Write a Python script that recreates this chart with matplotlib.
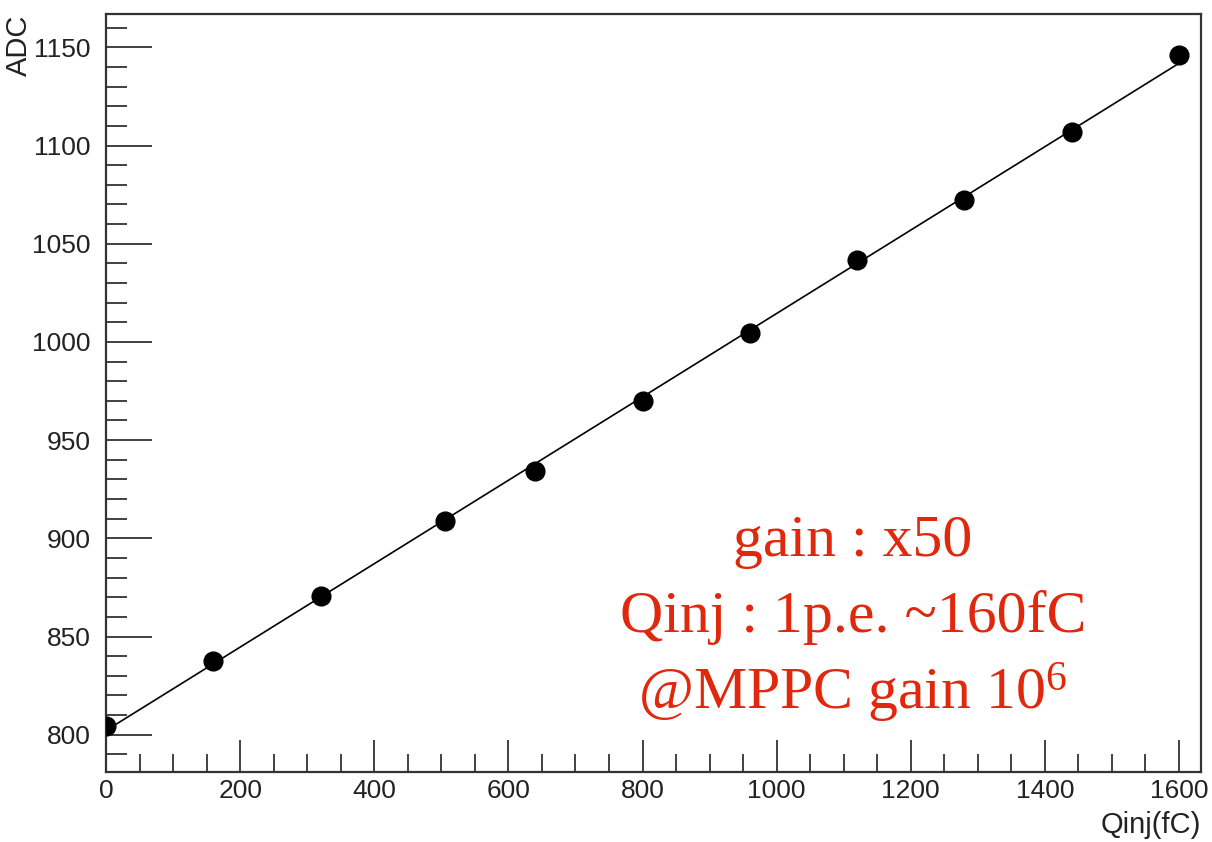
import numpy as np
import matplotlib.pyplot as plt
from matplotlib.ticker import MultipleLocator

# injected charge (fC) vs. ADC count
qinj = [0, 160, 320, 505, 640, 800, 960, 1120, 1280, 1440, 1600]
adc = [804.5, 837.5, 870.5, 909, 934.5, 970, 1004.5, 1041.5, 1072.5, 1107, 1146]

notes = ["gain : x50", "Qinj : 1p.e. ~160fC", "@MPPC gain 10$^{6}$"]
red = "#e0280c"

plt.rcParams["mathtext.fontset"] = "custom"
plt.rcParams["mathtext.rm"] = "Liberation Serif"
plt.rcParams["mathtext.it"] = "Liberation Serif:italic"
plt.rcParams["mathtext.default"] = "rm"

fig = plt.figure(figsize=(12.12, 8.42), dpi=100)
ax = fig.add_axes([0.0875, 0.0831, 0.9035, 0.9003])

# linear fit through the points
p = np.polyfit(qinj, adc, 1)
xf = np.array([qinj[0], qinj[-1]])
ax.plot(xf, np.polyval(p, xf), color="black", lw=1.2, zorder=2)
ax.plot(qinj, adc, "o", color="black", ms=13.5, zorder=3)

ax.set_xlim(0, 1633)
ax.set_ylim(781, 1167)
ax.xaxis.set_major_locator(MultipleLocator(200))
ax.xaxis.set_minor_locator(MultipleLocator(50))
ax.yaxis.set_major_locator(MultipleLocator(50))
ax.yaxis.set_minor_locator(MultipleLocator(10))

for s in ax.spines.values():
    s.set_linewidth(1.6)
    s.set_color("#333333")
ax.tick_params(which="both", direction="in", top=False, right=False,
               colors="#333333", labelcolor="#222222", labelsize=19,
               labelfontfamily="Liberation Sans")
ax.tick_params(axis="x", which="major", length=23, width=1.3, pad=5)
ax.tick_params(axis="x", which="minor", length=13, width=1.3)
ax.tick_params(axis="y", which="major", length=33, width=1.3, pad=11)
ax.tick_params(axis="y", which="minor", length=15, width=1.3)

ax.set_xlabel("Qinj(fC)", fontsize=21, family="Liberation Sans", color="#222222")
ax.xaxis.set_label_coords(1.0, -0.052)
ax.xaxis.label.set_horizontalalignment("right")
ax.xaxis.label.set_verticalalignment("top")
ax.set_ylabel("ADC", fontsize=21, family="Liberation Sans", color="#222222")
ax.yaxis.set_label_coords(-0.067, 0.999)
ax.yaxis.label.set_horizontalalignment("right")

for i, t in enumerate(notes):
    ax.text(0.682, 0.303 - i * 0.099, t, transform=ax.transAxes,
            ha="center", va="center", fontsize=43, color=red,
            family="Liberation Serif")

fig.savefig("out.png", dpi=100)
